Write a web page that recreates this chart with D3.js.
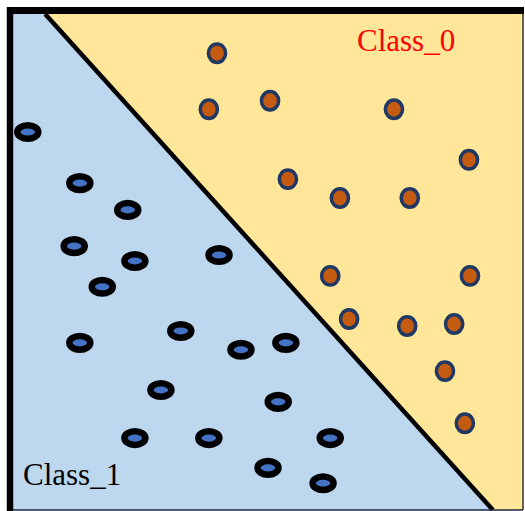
<!DOCTYPE html>
<html>
<head>
<meta charset="utf-8">
<script src="https://cdn.jsdelivr.net/npm/d3@7"></script>
<style>
  body { margin: 0; background: #fff; }
  svg { display: block; }
</style>
</head>
<body>
<div id="chart"></div>
<script>
// class 0 points (x, y in plot units 0-100)
let class0X = [40.0, 38.4, 50.4, 74.7, 89.4, 53.9, 64.1, 77.8, 62.2, 89.6, 65.9, 77.3, 86.5, 84.7, 88.6];
let class0Y = [92.1, 80.8, 82.5, 80.8, 70.6, 66.7, 62.9, 62.9, 47.2, 47.2, 38.5, 37.1, 37.5, 28.0, 17.5];

// class 1 points
let class1X = [2.9, 13.1, 22.5, 12.0, 23.9, 40.4, 17.5, 13.1, 32.9, 44.7, 53.5, 29.0, 52.0, 23.9, 38.4, 62.2, 50.0, 60.8];
let class1Y = [76.2, 65.9, 60.5, 53.2, 50.2, 51.4, 45.0, 33.7, 36.1, 32.3, 33.7, 24.2, 21.8, 14.5, 14.5, 14.5, 8.5, 5.4];

// decision boundary end points
let boundaryX = [6.3, 94.1];
let boundaryY = [100, 0];

let labels = ['Class_0', 'Class_1'];

//#region setup
let width = 525,
    height = 511,
    plotLeft = 13, plotRight = 523,
    plotTop = 14, plotBottom = 510;

let svg = d3.select('#chart')
    .append('svg')
    .attr('width', width)
    .attr('height', height);

let xScale = d3.scaleLinear().domain([0, 100]).range([plotLeft, plotRight]);
let yScale = d3.scaleLinear().domain([0, 100]).range([plotBottom, plotTop]);
//#endregion

//#region regions
let b0 = [xScale(boundaryX[0]), yScale(boundaryY[0])];
let b1 = [xScale(boundaryX[1]), yScale(boundaryY[1])];

svg.append('polygon')
    .attr('points', [[xScale(0), yScale(100)], b0, b1, [xScale(0), yScale(0)]].join(' '))
    .attr('fill', '#BDD7EE');

svg.append('polygon')
    .attr('points', [b0, [xScale(100), yScale(100)], [xScale(100), yScale(0)], b1].join(' '))
    .attr('fill', '#FFE699');

svg.append('line')
    .attr('x1', b0[0]).attr('y1', b0[1])
    .attr('x2', b1[0]).attr('y2', b1[1])
    .attr('stroke', '#000')
    .attr('stroke-width', 4.5);
//#endregion

//#region frame
svg.append('line')
    .attr('x1', plotRight).attr('y1', plotTop).attr('x2', plotRight).attr('y2', plotBottom)
    .attr('stroke', '#333').attr('stroke-width', 1.5);
svg.append('line')
    .attr('x1', plotLeft).attr('y1', plotBottom).attr('x2', plotRight).attr('y2', plotBottom)
    .attr('stroke', '#1c2a44').attr('stroke-width', 1.5);
svg.append('line')
    .attr('x1', 10).attr('y1', 7).attr('x2', 10).attr('y2', plotBottom + 1)
    .attr('stroke', '#000').attr('stroke-width', 6.5);
svg.append('line')
    .attr('x1', 7).attr('y1', 10.5).attr('x2', plotRight + 1).attr('y2', 10.5)
    .attr('stroke', '#000').attr('stroke-width', 7);
//#endregion

//#region points
svg.selectAll('.c1')
    .data(class1X)
    .enter()
    .append('ellipse')
    .attr('class', 'c1')
    .attr('cx', d => xScale(d))
    .attr('cy', (d, i) => yScale(class1Y[i]))
    .attr('rx', 10.5)
    .attr('ry', 6.8)
    .attr('fill', '#4472C4')
    .attr('stroke', '#000')
    .attr('stroke-width', 6.5);

svg.selectAll('.c0')
    .data(class0X)
    .enter()
    .append('ellipse')
    .attr('class', 'c0')
    .attr('cx', d => xScale(d))
    .attr('cy', (d, i) => yScale(class0Y[i]))
    .attr('rx', 8.6)
    .attr('ry', 9.2)
    .attr('fill', '#C55A11')
    .attr('stroke', '#1F3864')
    .attr('stroke-width', 3.5);
//#endregion

//#region labels
svg.append('text')
    .attr('x', 357).attr('y', 51)
    .attr('font-family', '"Liberation Serif", "Times New Roman", serif')
    .attr('font-size', 31)
    .attr('fill', '#FF0000')
    .text(labels[0]);

svg.append('text')
    .attr('x', 23).attr('y', 485)
    .attr('font-family', '"Liberation Serif", "Times New Roman", serif')
    .attr('font-size', 31)
    .attr('fill', '#000')
    .text(labels[1]);
//#endregion
</script>
</body>
</html>
